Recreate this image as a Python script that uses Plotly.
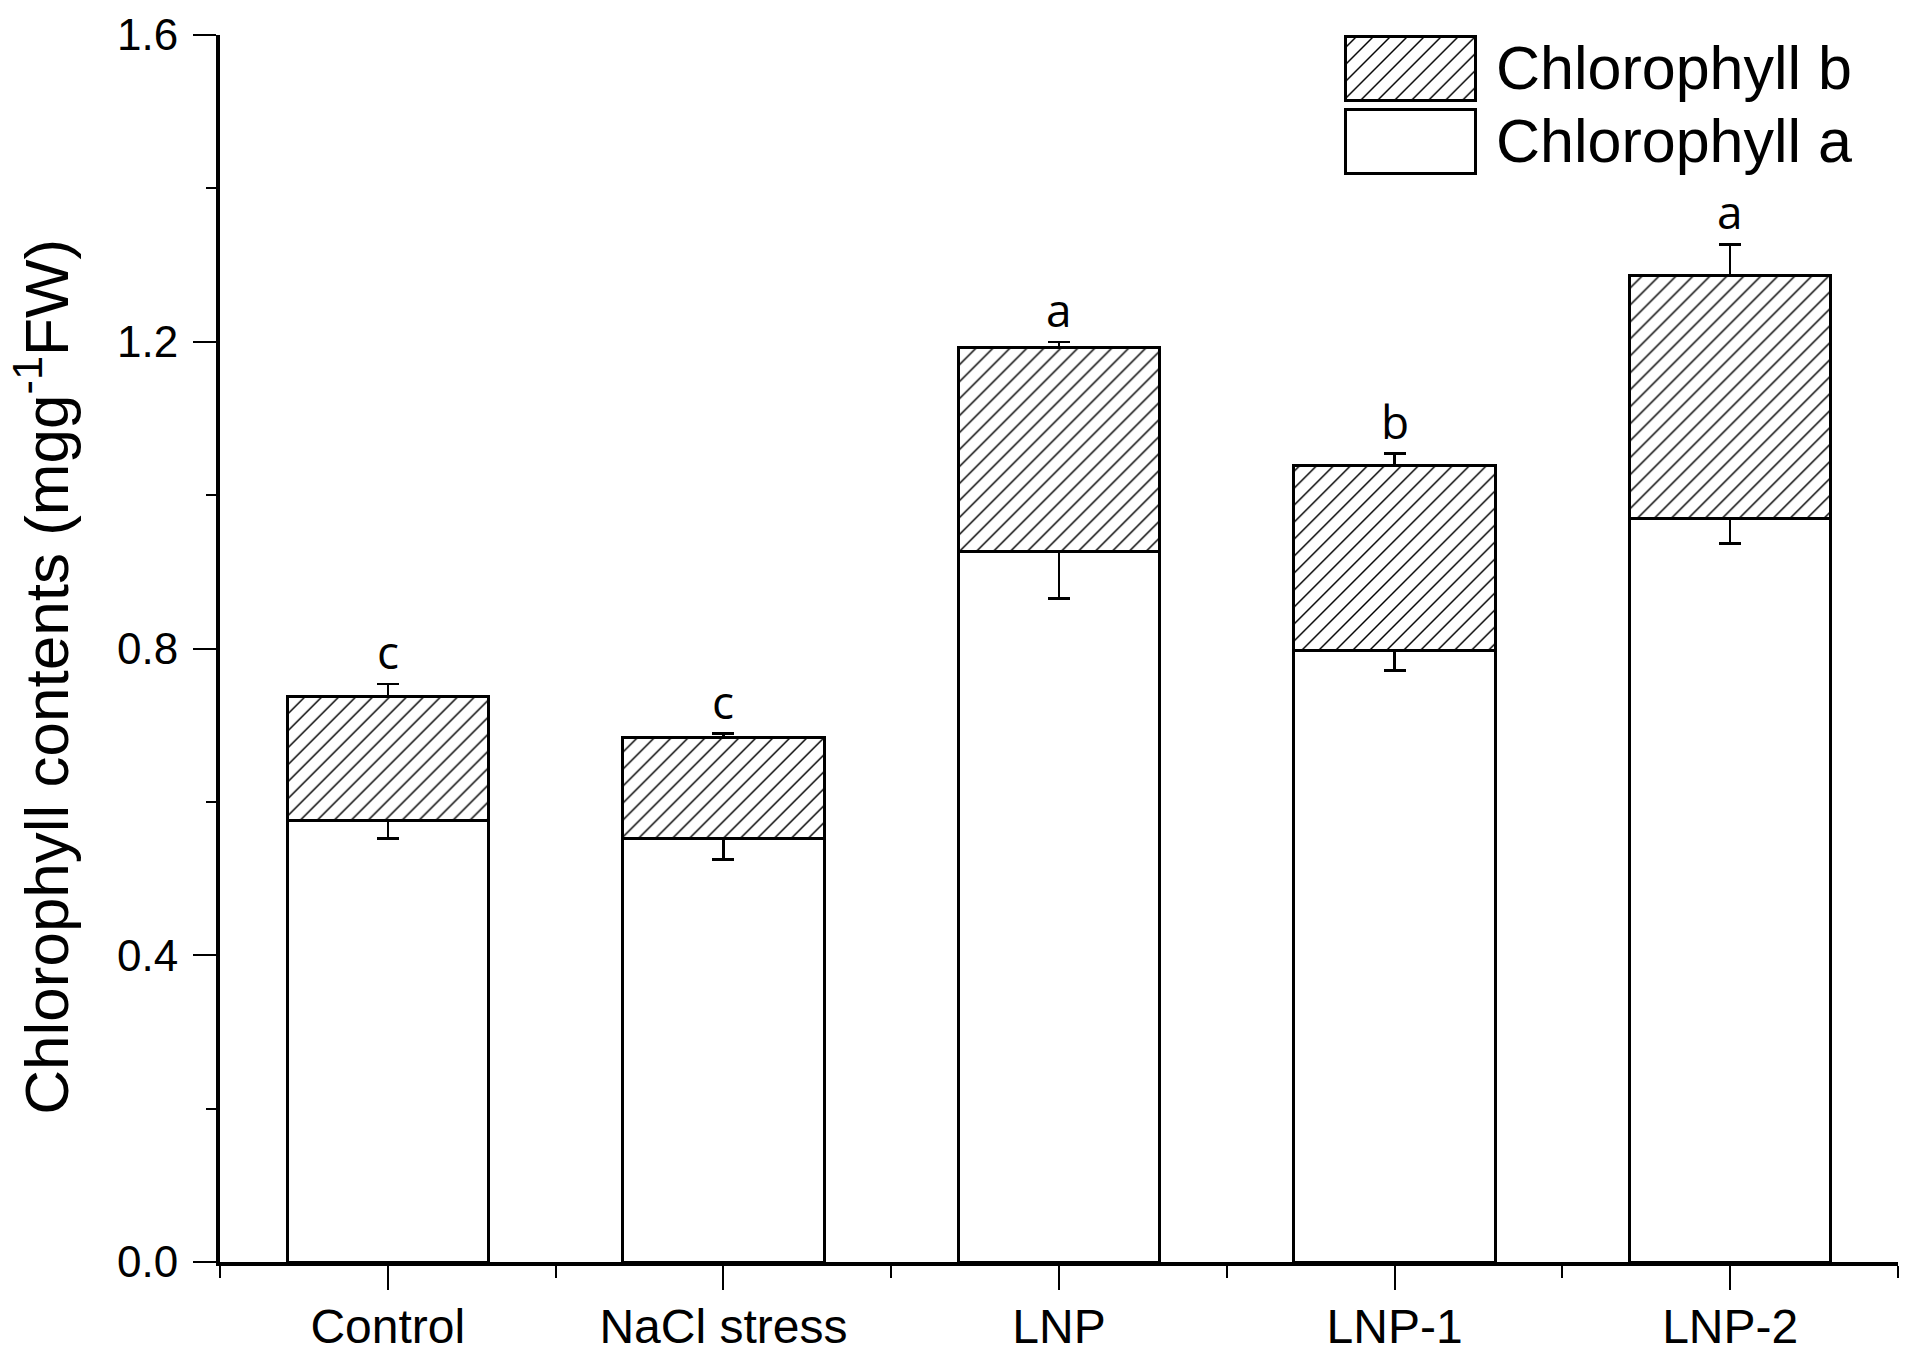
import plotly.graph_objects as go

categories = ["Control", "NaCl stress", "LNP", "LNP-1", "LNP-2"]
chl_a = [0.576, 0.552, 0.927, 0.797, 0.970]
chl_a_err = [0.024, 0.027, 0.062, 0.026, 0.033]
chl_b = [0.162, 0.132, 0.265, 0.241, 0.316]
total_err = [0.016, 0.005, 0.008, 0.016, 0.041]
letters = ["c", "c", "a", "b", "a"]
y_ticks = [0.0, 0.4, 0.8, 1.2, 1.6]

xpos = list(range(len(categories)))
AX_FONT = "Liberation Sans, Arial, sans-serif"
BAR_W = 0.6
HATCH = dict(shape="/", fgcolor="black", bgcolor="white",
             size=12, solidity=0.12, fillmode="replace")

fig = go.Figure()
fig.add_trace(go.Bar(
    x=xpos, y=chl_a, width=BAR_W, name="Chlorophyll a",
    marker=dict(color="white", line=dict(color="black", width=3)),
    error_y=dict(type="data", symmetric=False, array=[0] * len(chl_a),
                 arrayminus=chl_a_err, color="black", thickness=2.5, width=11),
    showlegend=False,
))
fig.add_trace(go.Bar(
    x=xpos, y=chl_b, width=BAR_W, name="Chlorophyll b",
    marker=dict(color="white", line=dict(color="black", width=3), pattern=HATCH),
    error_y=dict(type="data", symmetric=False, array=total_err,
                 arrayminus=[0] * len(chl_b), color="black", thickness=2.5, width=11),
    showlegend=False,
))

# significance letters
for i, (a, b, e, t) in enumerate(zip(chl_a, chl_b, total_err, letters)):
    fig.add_annotation(x=i, y=a + b + e, text=t, showarrow=False,
                       xref="x", yref="y", yanchor="bottom", yshift=0,
                       font=dict(family="Open Sans, Noto Sans, sans-serif", size=46, color="black"))

# legend swatches drawn as bars on an inset axis
legend_names = ["Chlorophyll a", "Chlorophyll b"]
fig.add_trace(go.Bar(
    y=[0], x=[1], orientation="h", width=0.87, xaxis="x2", yaxis="y2",
    marker=dict(color="white", line=dict(color="black", width=3)),
    showlegend=False, hoverinfo="skip",
))
fig.add_trace(go.Bar(
    y=[1], x=[1], orientation="h", width=0.87, xaxis="x2", yaxis="y2",
    marker=dict(color="white", line=dict(color="black", width=3), pattern=HATCH),
    showlegend=False, hoverinfo="skip",
))
for yy, name in zip([0.9134, 0.9729], legend_names):
    fig.add_annotation(x=0.7592, y=yy, xref="paper", yref="paper", text=name,
                       showarrow=False, xanchor="left", yanchor="middle",
                       font=dict(family=AX_FONT, size=61, color="black"))

# y-axis title
fig.add_annotation(x=-0.1062, y=0.4768, xref="paper", yref="paper",
                   text="Chlorophyll contents (mgg<sup>-1</sup>FW)", textangle=-90,
                   showarrow=False, xanchor="center", yanchor="middle",
                   font=dict(family=AX_FONT, size=62, color="black"))

fig.update_layout(
    width=1908, height=1358,
    margin=dict(l=220, r=10, t=35, b=96, autoexpand=False),
    paper_bgcolor="white", plot_bgcolor="white",
    barmode="stack",
    xaxis=dict(range=[-0.5, 4.5], tickvals=xpos, ticktext=categories,
               ticks="outside", ticklen=24, tickwidth=2, tickcolor="black",
               minor=dict(tick0=0.5, dtick=1, ticks="outside", ticklen=12,
                          tickwidth=2, tickcolor="black"),
               showline=True, linewidth=4, linecolor="black", automargin=False,
               showgrid=False, zeroline=False, ticklabelstandoff=-5,
               tickfont=dict(family=AX_FONT, size=48, color="black")),
    yaxis=dict(range=[0, 1.6], tickvals=y_ticks, tickformat=".1f",
               ticks="outside", ticklen=23, tickwidth=2, tickcolor="black",
               minor=dict(dtick=0.2, tick0=0, ticks="outside", ticklen=10,
                          tickwidth=2, tickcolor="black"),
               showline=True, linewidth=4, linecolor="black", automargin=False,
               showgrid=False, zeroline=False, ticklabelstandoff=6,
               tickfont=dict(family=AX_FONT, size=44, color="black")),
    xaxis2=dict(domain=[0.6681, 0.7503], range=[-0.0308, 1.0308], anchor="y2",
                visible=False, fixedrange=True),
    yaxis2=dict(domain=[0.88346, 1.0], range=[-0.5034, 1.4555], anchor="x2",
                visible=False, fixedrange=True),
)

fig.write_html(
    "out.html",
    config={"displayModeBar": False},
    post_script="document.body.style.margin='0';document.body.style.padding='0';"
                "document.body.style.overflow='hidden';",
)
